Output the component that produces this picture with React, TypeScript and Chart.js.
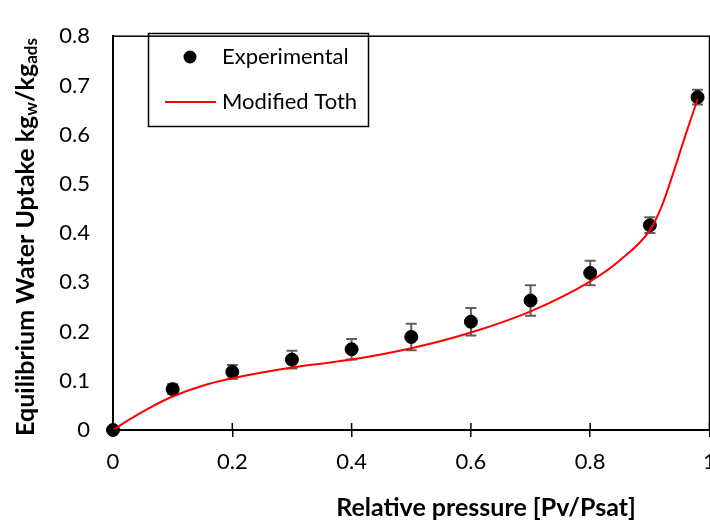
import React, { useEffect, useRef } from "react";
import { Chart, registerables } from "chart.js";

Chart.register(...registerables);

// Measured isotherm points (relative pressure vs. uptake) with their uncertainty
const pressureExp = [0, 0.1, 0.2, 0.3, 0.4, 0.5, 0.6, 0.7, 0.8, 0.9, 0.98];
const uptakeExp = [0, 0.083, 0.118, 0.143, 0.164, 0.189, 0.22, 0.263, 0.319, 0.416, 0.676];
const uptakeErr = [0, 0.01, 0.014, 0.018, 0.021, 0.027, 0.028, 0.031, 0.025, 0.016, 0.015];

// Modified Toth fit curve
const pressureFit = [0, 0.03, 0.06, 0.1, 0.15, 0.2, 0.3, 0.4, 0.5, 0.6, 0.7, 0.8, 0.85, 0.9, 0.92, 0.94, 0.96, 0.98];
const uptakeFit = [0, 0.023, 0.044, 0.068, 0.09, 0.105, 0.127, 0.143, 0.166, 0.198, 0.241, 0.302, 0.345, 0.406, 0.455, 0.525, 0.6, 0.672];

const xTicks = [0, 0.2, 0.4, 0.6, 0.8, 1];
const yTicks = [0, 0.1, 0.2, 0.3, 0.4, 0.5, 0.6, 0.7, 0.8];

const legendLabels = ["Experimental", "Modified Toth"];
const xTitle = "Relative pressure [Pv/Psat]";

const FONT = "Lato, 'Open Sans', sans-serif";
const W = 730;
const H = 523;

const decorPlugin = {
  id: "decor",
  beforeDatasetsDraw(chart: any) {
    const { ctx } = chart;
    const xs = chart.scales.x;
    const ys = chart.scales.y;
    // error bars sit underneath the markers
    ctx.save();
    ctx.strokeStyle = "#5f5f5f";
    ctx.lineWidth = 2;
    pressureExp.forEach((p, i) => {
      const e = uptakeErr[i];
      if (!e) return;
      const px = xs.getPixelForValue(p);
      const y1 = ys.getPixelForValue(uptakeExp[i] + e);
      const y0 = ys.getPixelForValue(uptakeExp[i] - e);
      ctx.beginPath();
      ctx.moveTo(px, y0);
      ctx.lineTo(px, y1);
      ctx.moveTo(px - 5.5, y1);
      ctx.lineTo(px + 5.5, y1);
      ctx.moveTo(px - 5.5, y0);
      ctx.lineTo(px + 5.5, y0);
      ctx.stroke();
    });
    ctx.restore();
  },
  afterDraw(chart: any) {
    const { ctx, chartArea: a } = chart;
    const xs = chart.scales.x;
    ctx.save();
    // plot frame
    ctx.strokeStyle = "#000";
    ctx.lineWidth = 1.5;
    ctx.strokeRect(a.left, a.top, a.right - a.left, a.bottom - a.top);
    // inner half of the x tick marks
    xTicks.forEach((t) => {
      const px = xs.getPixelForValue(t);
      ctx.beginPath();
      ctx.moveTo(px, a.bottom);
      ctx.lineTo(px, a.bottom - 7);
      ctx.stroke();
    });

    // x axis title
    ctx.fillStyle = "#000";
    ctx.font = `bold 25px ${FONT}`;
    ctx.textAlign = "center";
    ctx.textBaseline = "middle";
    ctx.fillText(xTitle, 486, 508);

    // y axis title with subscripts
    const big = `bold 25px ${FONT}`;
    const small = `bold 17px ${FONT}`;
    const parts: [string, boolean][] = [
      ["Equilibrium Water Uptake kg", false],
      ["w", true],
      ["/kg", false],
      ["ads", true],
    ];
    let total = 0;
    parts.forEach(([t, sub]) => {
      ctx.font = sub ? small : big;
      total += ctx.measureText(t).width;
    });
    ctx.translate(26, 237);
    ctx.rotate(-Math.PI / 2);
    ctx.textAlign = "left";
    let cx = -total / 2;
    parts.forEach(([t, sub]) => {
      ctx.font = sub ? small : big;
      ctx.fillText(t, cx, sub ? 6 : 0);
      cx += ctx.measureText(t).width;
    });
    ctx.restore();

    // legend
    ctx.save();
    ctx.strokeStyle = "#000";
    ctx.lineWidth = 1.5;
    ctx.strokeRect(148.5, 33.5, 220, 93);
    ctx.fillStyle = "#000";
    ctx.beginPath();
    ctx.arc(190, 57, 6.5, 0, Math.PI * 2);
    ctx.fill();
    ctx.strokeStyle = "#ff0000";
    ctx.lineWidth = 2;
    ctx.beginPath();
    ctx.moveTo(165, 102);
    ctx.lineTo(216, 102);
    ctx.stroke();
    ctx.font = `22px ${FONT}`;
    ctx.textAlign = "left";
    ctx.textBaseline = "middle";
    ctx.fillStyle = "#000";
    ctx.fillText(legendLabels[0], 222, 57);
    ctx.fillText(legendLabels[1], 222, 102);
    ctx.restore();
  },
};

export default function App() {
  const ref = useRef<HTMLCanvasElement>(null);
  useEffect(() => {
    if (!ref.current) return;
    const chart = new Chart(ref.current, {
      type: "scatter",
      data: {
        datasets: [
          {
            type: "line",
            label: legendLabels[1],
            data: pressureFit.map((x, i) => ({ x, y: uptakeFit[i] })),
            borderColor: "#ff0000",
            borderWidth: 2,
            pointRadius: 0,
            cubicInterpolationMode: "monotone",
            fill: false,
            order: 0,
          } as any,
          {
            type: "scatter",
            label: legendLabels[0],
            data: pressureExp.map((x, i) => ({ x, y: uptakeExp[i] })),
            backgroundColor: "#000",
            borderColor: "#000",
            pointRadius: 6.5,
            clip: false,
            order: 1,
          } as any,
        ],
      },
      options: {
        responsive: false,
        animation: false,
        devicePixelRatio: 1,
        layout: { padding: { left: 0, right: W - 709.5, top: 20, bottom: 0 } },
        plugins: { legend: { display: false }, tooltip: { enabled: false } },
        scales: {
          x: {
            type: "linear",
            min: 0,
            max: 1,
            afterFit: (s: any) => {
              s.height = H - 430;
            },
            afterBuildTicks: (s: any) => {
              s.ticks = xTicks.map((v) => ({ value: v }));
            },
            ticks: {
              font: { family: FONT, size: 22 },
              color: "#000",
              padding: 12,
              maxRotation: 0,
              callback: (v: any) => String(+Number(v).toFixed(1)),
            },
            grid: {
              drawOnChartArea: false,
              drawTicks: true,
              tickLength: 7,
              color: "#000",
              lineWidth: 1.5,
            },
            border: { display: true, color: "#000", width: 2 },
          },
          y: {
            type: "linear",
            min: 0,
            max: 0.8,
            afterFit: (s: any) => {
              s.width = 113;
            },
            afterBuildTicks: (s: any) => {
              s.ticks = yTicks.map((v) => ({ value: v }));
            },
            ticks: {
              font: { family: FONT, size: 22 },
              color: "#000",
              padding: 23,
              callback: (v: any) => String(+Number(v).toFixed(1)),
            },
            grid: { display: false, drawTicks: false },
            border: { display: true, color: "#000", width: 2 },
          },
        },
      },
      plugins: [decorPlugin],
    });
    return () => chart.destroy();
  }, []);
  return (
    <div style={{ position: "fixed", left: 0, top: 0, width: 710, height: 523, overflow: "hidden", background: "#fff" }}>
      <div style={{ width: W, height: H }}>
        <canvas ref={ref} width={W} height={H} style={{ width: W, height: H, display: "block" }} />
      </div>
    </div>
  );
}
